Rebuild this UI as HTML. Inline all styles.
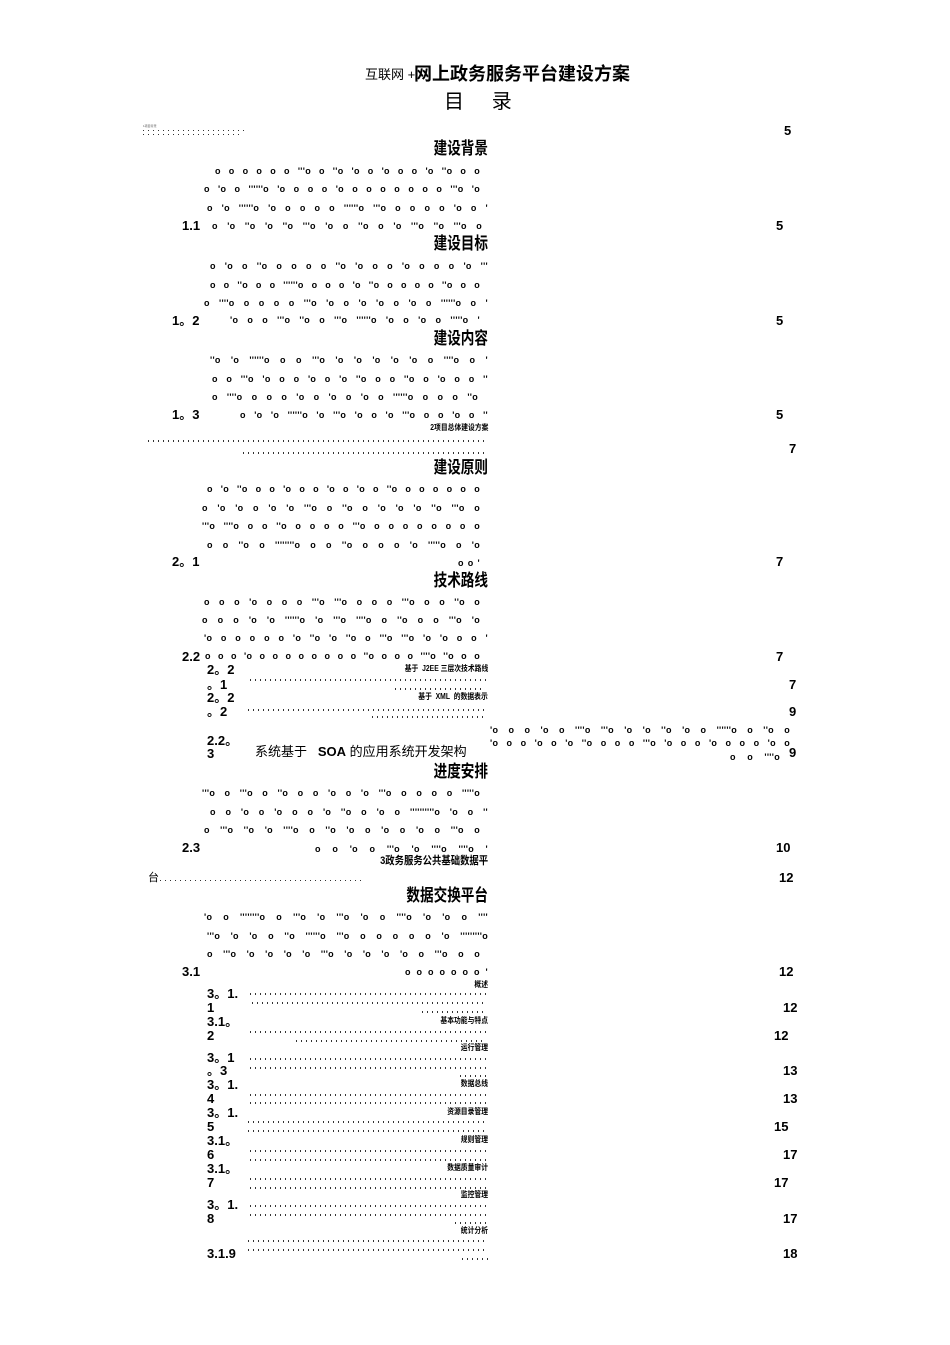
<!DOCTYPE html>
<html><head><meta charset="utf-8"><style>
body{margin:0;background:#fff;}
#p{position:relative;width:950px;height:1345px;overflow:hidden;background:#fff;color:#000;font-family:"Liberation Sans","Noto Sans CJK SC",sans-serif;}
.t{position:absolute;white-space:nowrap;line-height:1;}
.h{position:absolute;right:462px;font-size:17px;line-height:1;white-space:nowrap;transform:scaleX(0.8);transform-origin:right center;font-weight:bold;}
.d{position:absolute;font-size:9px;font-weight:bold;line-height:1;text-align:justify;text-align-last:justify;white-space:nowrap;overflow:hidden;letter-spacing:0.3px;}
.n{position:absolute;font-size:13px;font-weight:bold;line-height:1;white-space:nowrap;}
.s{position:absolute;font-size:8px;line-height:1;white-space:nowrap;right:462px;transform:scaleX(0.85);transform-origin:right center;font-weight:bold;}
.td{position:absolute;height:2px;background:repeating-linear-gradient(90deg,#333 0 1px,transparent 1px 5px);}
</style></head><body><div id="p">

<div class="t" style="left:365px;top:68px;font-size:13px;">互联网 +</div>
<div class="t" style="left:414px;top:65px;font-size:18px;font-weight:bold;">网上政务服务平台建设方案</div>
<div class="t" style="left:444px;top:92px;font-size:20px;">目&nbsp;&nbsp;&nbsp;&nbsp;&nbsp;录</div>
<div class="t" style="left:143px;top:125px;font-size:3px;color:#555;">1项目背景</div>
<div class="td" style="left:143px;top:130px;width:103px;height:1px;"></div>
<div class="td" style="left:143px;top:134px;width:100px;height:1px;"></div>
<div class="n" style="left:784px;top:124px;">5</div>

<div class="h" style="top:140px;">建设背景</div>
<div class="d" style="left:215px;width:265px;top:167px;">o o o o o o '''o o ''o 'o o 'o o o 'o ''o o o</div>
<div class="d" style="left:204px;width:276px;top:185px;">o 'o o ''''''o 'o o o o 'o o o o o o o o '''o 'o</div>
<div class="d" style="left:207px;width:281px;top:204px;">o 'o ''''''o 'o o o o o ''''''o '''o o o o o 'o o '</div>
<div class="n" style="left:182px;top:219px;">1.1</div>
<div class="d" style="left:212px;width:270px;top:222px;">o 'o ''o 'o ''o '''o 'o o ''o o 'o '''o ''o '''o o</div>
<div class="n" style="left:776px;top:219px;">5</div>

<div class="h" style="top:235px;">建设目标</div>
<div class="d" style="left:210px;width:278px;top:262px;">o 'o o ''o o o o o ''o 'o o o 'o o o o 'o '''</div>
<div class="d" style="left:210px;width:270px;top:281px;">o o ''o o o ''''''o o o o 'o ''o o o o o ''o o o</div>
<div class="d" style="left:204px;width:284px;top:299px;">o ''''o o o o o '''o 'o o 'o 'o o 'o o ''''''o o '</div>
<div class="n" style="left:172px;top:314px;">1。2</div>
<div class="d" style="left:230px;width:250px;top:316px;">'o o o '''o ''o o '''o ''''''o 'o o 'o o '''''o '</div>
<div class="n" style="left:776px;top:314px;">5</div>

<div class="h" style="top:330px;">建设内容</div>
<div class="d" style="left:210px;width:278px;top:356px;">''o 'o ''''''o o o '''o 'o 'o 'o 'o 'o o ''''o o '</div>
<div class="d" style="left:212px;width:276px;top:375px;">o o '''o 'o o o 'o o 'o ''o o o ''o o 'o o o ''</div>
<div class="d" style="left:212px;width:266px;top:393px;">o ''''o o o o 'o o 'o o 'o o ''''''o o o o ''o</div>
<div class="n" style="left:172px;top:408px;">1。3</div>
<div class="d" style="left:240px;width:248px;top:411px;">o 'o 'o ''''''o 'o '''o 'o o 'o '''o o o 'o o ''</div>
<div class="n" style="left:776px;top:408px;">5</div>

<div class="s" style="top:424px;">2项目总体建设方案</div>
<div class="td" style="left:148px;top:440px;width:340px;"></div>
<div class="n" style="left:789px;top:442px;">7</div>
<div class="td" style="left:243px;top:452px;width:245px;"></div>

<div class="h" style="top:459px;">建设原则</div>
<div class="d" style="left:207px;width:273px;top:485px;">o 'o ''o o o 'o o o 'o o 'o o ''o o o o o o o</div>
<div class="d" style="left:202px;width:278px;top:504px;">o 'o 'o o 'o 'o '''o o ''o o 'o 'o 'o ''o '''o o</div>
<div class="d" style="left:202px;width:278px;top:522px;">'''o ''''o o o ''o o o o o '''o o o o o o o o o</div>
<div class="d" style="left:207px;width:273px;top:541px;">o o ''o o ''''''''o o o ''o o o o 'o '''''o o 'o</div>
<div class="d" style="left:458px;width:22px;top:559px;">o o '</div>
<div class="n" style="left:172px;top:555px;">2。1</div>
<div class="n" style="left:776px;top:555px;">7</div>

<div class="h" style="top:572px;">技术路线</div>
<div class="d" style="left:204px;width:276px;top:598px;">o o o 'o o o o '''o '''o o o o '''o o o ''o o</div>
<div class="d" style="left:202px;width:278px;top:616px;">o o o 'o 'o ''''''o 'o '''o ''''o o ''o o o '''o 'o</div>
<div class="d" style="left:204px;width:284px;top:634px;">'o o o o o o 'o ''o 'o ''o o '''o '''o 'o 'o o o '</div>
<div class="n" style="left:182px;top:650px;">2.2</div>
<div class="d" style="left:205px;width:275px;top:652px;">o o o 'o o o o o o o o o ''o o o o ''''o ''o o o</div>
<div class="n" style="left:776px;top:650px;">7</div>

<div class="n" style="left:207px;top:663px;">2。2</div>
<div class="s" style="top:665px;">基于&nbsp;&nbsp;J2EE&nbsp;三层次技术路线</div>
<div class="td" style="left:250px;top:679px;width:238px;"></div>
<div class="td" style="left:395px;top:688px;width:90px;"></div>
<div class="n" style="left:207px;top:678px;">。1</div>
<div class="n" style="left:789px;top:678px;">7</div>
<div class="n" style="left:207px;top:691px;">2。2</div>
<div class="s" style="top:693px;">基于&nbsp;&nbsp;XML&nbsp;&nbsp;的数据表示</div>
<div class="td" style="left:248px;top:709px;width:240px;"></div>
<div class="td" style="left:372px;top:716px;width:115px;"></div>
<div class="n" style="left:207px;top:705px;">。2</div>
<div class="n" style="left:789px;top:705px;">9</div>

<div class="d" style="left:490px;width:300px;top:726px;">'o o o 'o o ''''o '''o 'o 'o ''o 'o o ''''''o o ''o o</div>
<div class="d" style="left:490px;width:300px;top:739px;">'o o o 'o o 'o ''o o o o '''o 'o o o 'o o o o 'o o</div>
<div class="d" style="left:730px;width:50px;top:753px;">o o ''''o</div>
<div class="n" style="left:207px;top:734px;">2.2。</div>
<div class="n" style="left:207px;top:747px;">3</div>
<div class="t" style="left:255px;top:745px;font-size:13px;">系统基于&nbsp;&nbsp;&nbsp;<b>SOA</b>&nbsp;的应用系统开发架构</div>
<div class="n" style="left:789px;top:746px;">9</div>

<div class="h" style="top:763px;">进度安排</div>
<div class="d" style="left:202px;width:278px;top:789px;">'''o o '''o o ''o o o 'o o 'o '''o o o o o '''''o</div>
<div class="d" style="left:210px;width:278px;top:808px;">o o 'o o 'o o o 'o ''o o 'o o ''''''''''o 'o o ''</div>
<div class="d" style="left:204px;width:276px;top:826px;">o '''o ''o 'o ''''o o ''o 'o o 'o o 'o o '''o o</div>
<div class="n" style="left:182px;top:841px;">2.3</div>
<div class="d" style="left:315px;width:173px;top:845px;">o o 'o o '''o 'o ''''o ''''o '</div>
<div class="n" style="left:776px;top:841px;">10</div>

<div class="t" style="right:462px;top:856px;font-size:11px;font-weight:bold;transform:scaleX(0.85);transform-origin:right center;">3政务服务公共基础数据平</div>
<div class="t" style="left:148px;top:873px;font-size:11px;">台</div>
<div class="td" style="left:160px;top:880px;width:205px;height:1px;"></div>
<div class="n" style="left:779px;top:871px;">12</div>

<div class="h" style="top:887px;">数据交换平台</div>
<div class="d" style="left:204px;width:284px;top:913px;">'o o ''''''''o o '''o 'o '''o 'o o ''''o 'o 'o o ''''</div>
<div class="d" style="left:207px;width:281px;top:932px;">'''o 'o 'o o ''o ''''''o '''o o o o o o 'o '''''''''o</div>
<div class="d" style="left:207px;width:273px;top:950px;">o '''o 'o 'o 'o 'o '''o 'o 'o 'o 'o o '''o o o</div>
<div class="n" style="left:182px;top:965px;">3.1</div>
<div class="d" style="left:405px;width:83px;top:968px;">o o o o o o o '</div>
<div class="n" style="left:779px;top:965px;">12</div>

<div class="s" style="top:981px;">概述</div>
<div class="n" style="left:207px;top:987px;">3。1.</div>
<div class="n" style="left:207px;top:1001px;">1</div>
<div class="td" style="left:250px;top:993px;width:238px;"></div>
<div class="td" style="left:252px;top:1002px;width:232px;"></div>
<div class="td" style="left:422px;top:1011px;width:62px;"></div>
<div class="n" style="left:783px;top:1001px;">12</div>

<div class="s" style="top:1017px;">基本功能与特点</div>
<div class="n" style="left:207px;top:1015px;">3.1。</div>
<div class="n" style="left:207px;top:1029px;">2</div>
<div class="td" style="left:250px;top:1031px;width:238px;"></div>
<div class="td" style="left:296px;top:1040px;width:190px;"></div>
<div class="n" style="left:774px;top:1029px;">12</div>

<div class="s" style="top:1044px;">运行管理</div>
<div class="n" style="left:207px;top:1051px;">3。1</div>
<div class="n" style="left:207px;top:1064px;">。3</div>
<div class="td" style="left:250px;top:1058px;width:238px;"></div>
<div class="td" style="left:250px;top:1067px;width:238px;"></div>
<div class="td" style="left:460px;top:1075px;width:28px;"></div>
<div class="n" style="left:783px;top:1064px;">13</div>

<div class="s" style="top:1080px;">数据总线</div>
<div class="n" style="left:207px;top:1078px;">3。1.</div>
<div class="n" style="left:207px;top:1092px;">4</div>
<div class="td" style="left:250px;top:1094px;width:238px;"></div>
<div class="td" style="left:250px;top:1102px;width:238px;"></div>
<div class="n" style="left:783px;top:1092px;">13</div>

<div class="s" style="top:1108px;">资源目录管理</div>
<div class="n" style="left:207px;top:1106px;">3。1.</div>
<div class="n" style="left:207px;top:1120px;">5</div>
<div class="td" style="left:248px;top:1121px;width:240px;"></div>
<div class="td" style="left:248px;top:1130px;width:240px;"></div>
<div class="n" style="left:774px;top:1120px;">15</div>

<div class="s" style="top:1136px;">规则管理</div>
<div class="n" style="left:207px;top:1134px;">3.1。</div>
<div class="n" style="left:207px;top:1148px;">6</div>
<div class="td" style="left:250px;top:1150px;width:238px;"></div>
<div class="td" style="left:250px;top:1159px;width:238px;"></div>
<div class="n" style="left:783px;top:1148px;">17</div>

<div class="s" style="top:1164px;">数据质量审计</div>
<div class="n" style="left:207px;top:1162px;">3.1。</div>
<div class="n" style="left:207px;top:1176px;">7</div>
<div class="td" style="left:250px;top:1178px;width:238px;"></div>
<div class="td" style="left:250px;top:1187px;width:238px;"></div>
<div class="n" style="left:774px;top:1176px;">17</div>

<div class="s" style="top:1191px;">监控管理</div>
<div class="n" style="left:207px;top:1198px;">3。1.</div>
<div class="n" style="left:207px;top:1212px;">8</div>
<div class="td" style="left:250px;top:1205px;width:238px;"></div>
<div class="td" style="left:250px;top:1214px;width:238px;"></div>
<div class="td" style="left:455px;top:1222px;width:33px;"></div>
<div class="n" style="left:783px;top:1212px;">17</div>

<div class="s" style="top:1227px;">统计分析</div>
<div class="n" style="left:207px;top:1247px;">3.1.9</div>
<div class="td" style="left:248px;top:1240px;width:240px;"></div>
<div class="td" style="left:248px;top:1249px;width:240px;"></div>
<div class="td" style="left:462px;top:1258px;width:26px;"></div>
<div class="n" style="left:783px;top:1247px;">18</div>

</div></body></html>
